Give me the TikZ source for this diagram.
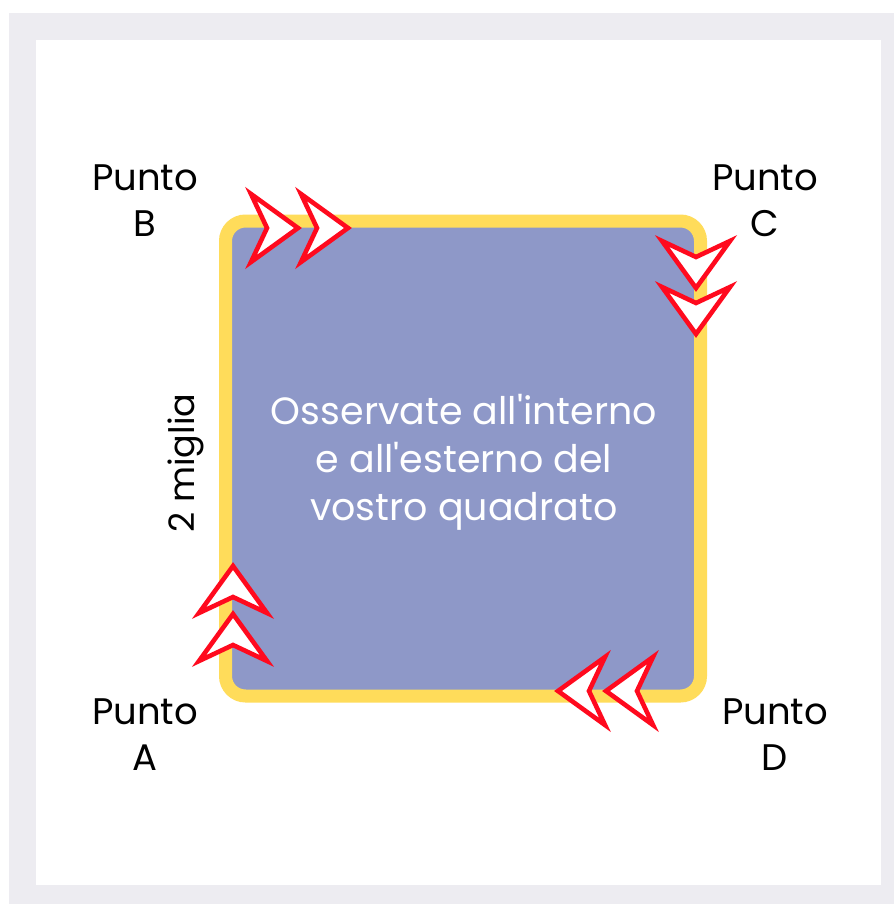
\documentclass[tikz,border=0pt]{standalone}
\usepackage{fontspec}
\setmainfont{Poppins}[Ligatures=TeXOff]
\usetikzlibrary{positioning}
\definecolor{sfondo}{HTML}{EDECF1}
\definecolor{bluq}{HTML}{8E98C8}
\definecolor{gialloq}{HTML}{FFDC5A}
\definecolor{rossof}{HTML}{FF0A1E}

\begin{document}
\begin{tikzpicture}[x=1pt, y=-1pt]
  \tikzstyle{quadrato}=[rectangle, draw=gialloq, line width=13pt, fill=bluq, rounded corners=20pt, minimum size=475pt]
  \tikzstyle{testo}=[text=white, align=center, font=\fontsize{38}{48}\selectfont]
  \tikzstyle{punto}=[align=center, font=\fontsize{37}{46}\selectfont]
  \tikzstyle{freccia}=[draw=rossof, line width=4.6pt, fill=white]
  \tikzset{chev/.pic={\path[freccia] (0,0) -- (-47,-34) -- (-31,0) -- (-47,34) -- cycle;}}

  \useasboundingbox (0,0) rectangle (894,904);
  \fill[sfondo] (9,13) rectangle (894,904);
  \fill[white] (36,40) rectangle (881,885);

  \node[quadrato] (quad) at (463,458.5) {};
  \node[testo] (testo) at (464,462) {Osservate all'interno\\e all'esterno del\\vostro quadrato};
  \node[rotate=90, font=\fontsize{35}{40}\selectfont] (lato) at (186,463) {2 miglia};

  \node[punto] (puntoB) at (145,201) {Punto\\B};
  \node[punto] (puntoC) at (765,201) {Punto\\C};
  \node[punto] (puntoA) at (145,735) {Punto\\A};
  \node[punto] (puntoD) at (775,735) {Punto\\D};

  % frecce lungo il perimetro
  \foreach \x in {298,348} \pic at (\x,228) {chev};
  \foreach \y in {288,334} \pic[rotate=-90] at (696,\y) {chev};
  \foreach \y in {566,614} \pic[rotate=90] at (233,\y) {chev};
  \foreach \x in {558,606} \pic[rotate=180] at (\x,691) {chev};
\end{tikzpicture}
\end{document}
